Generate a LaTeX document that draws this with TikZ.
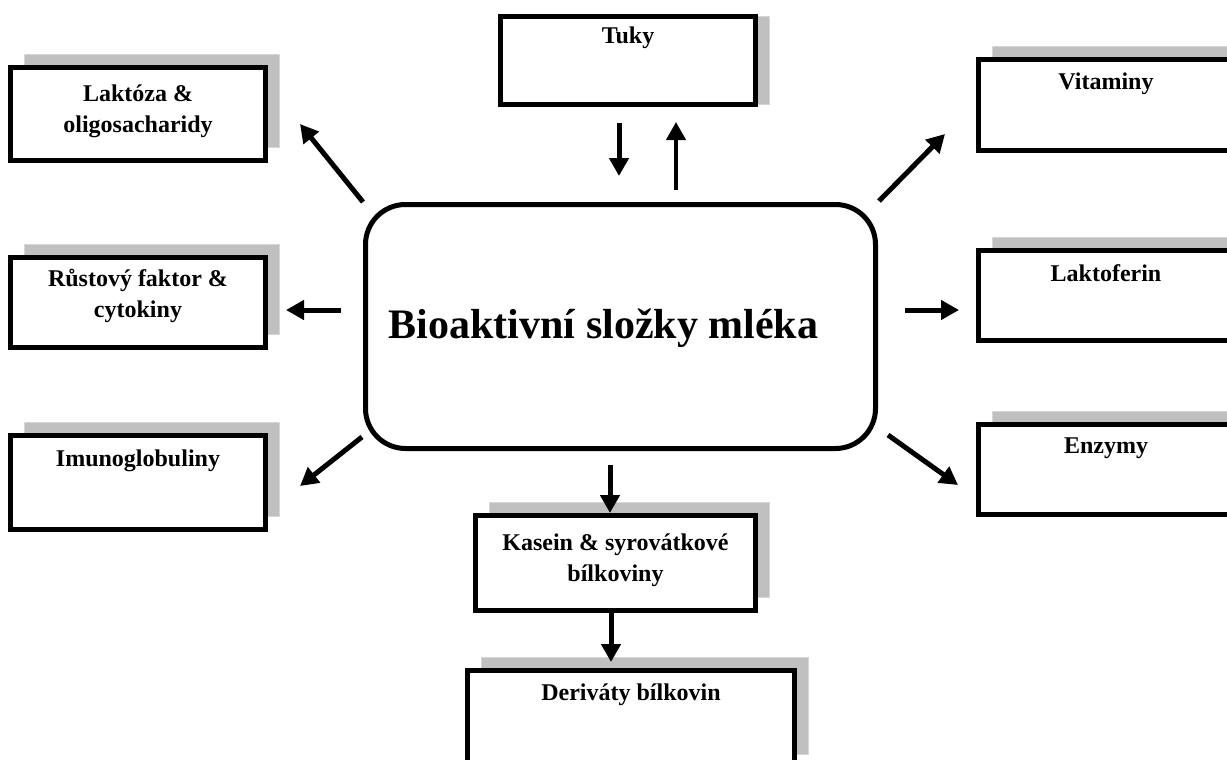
\documentclass[tikz,border=0pt]{standalone}
\usepackage{fontspec}
\setmainfont{Liberation Serif}
\usetikzlibrary{arrows.meta, shadows}

\definecolor{shadowgray}{RGB}{192,192,192}
\definecolor{shadowedge}{RGB}{214,214,214}

\tikzset{
  itembox/.style={draw, line width=5pt, fill=white, inner sep=0pt,
    minimum width=255pt, minimum height=#1,
    drop shadow={shadow xshift=14pt, shadow yshift=13pt, opacity=1,
      fill=shadowgray, draw=shadowedge, line width=1.5pt}},
  itembox/.default=91pt,
  flatbox/.style={draw, line width=5pt, fill=white, inner sep=0pt,
    minimum width=255pt, minimum height=#1,
    drop shadow={shadow xshift=14pt, shadow yshift=0pt, opacity=1,
      fill=shadowgray, draw=shadowedge, line width=1.5pt}},
  boxtext/.style={anchor=base, yshift=-32pt, inner sep=0pt, align=center,
    font=\fontsize{24}{31}\selectfont\bfseries},
  arr/.style={line width=5pt, -{Triangle[length=18pt, width=19pt]}},
}

\begin{document}
\begin{tikzpicture}[x=1pt, y=-1pt]
  \useasboundingbox (0,0) rectangle (1227,760);

  % central node
  \node[draw, line width=5pt, rounded corners=40pt, inner sep=0pt,
        minimum width=510pt, minimum height=244pt,
        label={[font=\fontsize{42}{50}\selectfont\bfseries, xshift=-17pt, yshift=-2pt]center:Bioaktivní složky mléka}]
        (centre) at (620.5,326.5) {};

  % left column
  \node[itembox=93pt, label={[boxtext, yshift=-4pt-31pt]north:{Laktóza \&\\oligosacharidy}}] (lak) at (138,114) {};
  \node[itembox=90pt, label={[boxtext, yshift=1pt-31pt]north:{Růstový faktor \&\\cytokiny}}] (rust) at (138,302.5) {};
  \node[itembox=94pt, label={[boxtext, yshift=-1pt]north:Imunoglobuliny}] (imu) at (138,482.5) {};

  % top
  \node[flatbox=88pt, label={[boxtext, yshift=2pt]north:Tuky}] (tuky) at (628,60.5) {};

  % right column
  \node[itembox, label={[boxtext]north:Vitaminy}] (vit) at (1106,105) {};
  \node[itembox=90pt, label={[boxtext, yshift=-1pt]north:Laktoferin}] (lakt) at (1106,295.5) {};
  \node[itembox=90pt, label={[boxtext, yshift=1pt]north:Enzymy}] (enz) at (1106,469.5) {};

  % bottom
  \node[itembox=95pt, minimum width=280pt, label={[boxtext, yshift=-5pt-31pt]north:{Kasein \& syrovátkové\\bílkoviny}}] (kas) at (615.5,563) {};
  \node[itembox=97pt, minimum width=327pt, label={[boxtext]north:Deriváty bílkovin}] (der) at (631,719) {};

  % arrow ends
  \coordinate (c-lak) at (363,202);  \coordinate (e-lak) at (300,124);
  \coordinate (c-vit) at (879,201);  \coordinate (e-vit) at (945,134);
  \coordinate (c-rust) at (341,310); \coordinate (e-rust) at (286,310);
  \coordinate (c-lakt) at (905,310); \coordinate (e-lakt) at (959,310);
  \coordinate (c-imu) at (362,437);  \coordinate (e-imu) at (300,486);
  \coordinate (c-enz) at (888,435);  \coordinate (e-enz) at (958,485);
  \coordinate (t-down) at (619,123); \coordinate (e-down) at (619,176);
  \coordinate (t-up) at (676,190);   \coordinate (e-up) at (676,122);
  \coordinate (c-kas) at (610,465);  \coordinate (e-kas) at (610,513);
  \coordinate (k-der) at (611,611);  \coordinate (e-der) at (611,662);

  \draw[arr] (c-lak) -- (e-lak);
  \draw[arr] (c-vit) -- (e-vit);
  \draw[arr] (c-rust) -- (e-rust);
  \draw[arr] (c-lakt) -- (e-lakt);
  \draw[arr] (c-imu) -- (e-imu);
  \draw[arr] (c-enz) -- (e-enz);
  \draw[arr] (t-down) -- (e-down);
  \draw[arr, line width=4pt] (t-up) -- (e-up);
  \draw[arr] (c-kas) -- (e-kas);
  \draw[arr] (k-der) -- (e-der);
\end{tikzpicture}
\end{document}
